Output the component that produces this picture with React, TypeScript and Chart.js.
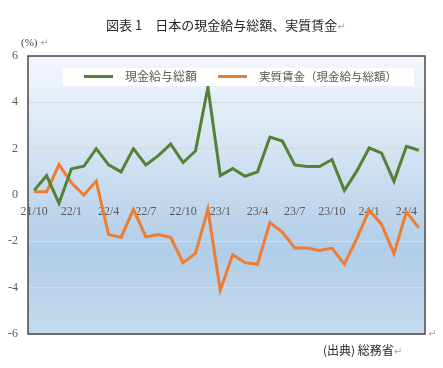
import React, { useEffect, useRef } from "react";
import { Chart, registerables } from "chart.js";

Chart.register(...registerables);

const months: string[] = [
  "21/10", "21/11", "21/12",
  "22/1", "22/2", "22/3", "22/4", "22/5", "22/6", "22/7", "22/8", "22/9", "22/10", "22/11", "22/12",
  "23/1", "23/2", "23/3", "23/4", "23/5", "23/6", "23/7", "23/8", "23/9", "23/10", "23/11", "23/12",
  "24/1", "24/2", "24/3", "24/4", "24/5",
];

const shownTickLabels: string[] = [
  "21/10", "22/1", "22/4", "22/7", "22/10", "23/1", "23/4", "23/7", "23/10", "24/1", "24/4",
];

const nominalWages: number[] = [
  0.2, 0.84, -0.36, 1.13, 1.24, 2.0, 1.3, 1.0, 2.0, 1.3, 1.7, 2.2, 1.4, 1.9, 4.65,
  0.84, 1.14, 0.81, 1.0, 2.5, 2.33, 1.3, 1.23, 1.23, 1.53, 0.19, 1.03,
  2.03, 1.81, 0.59, 2.1, 1.93,
];

const realWages: number[] = [
  0.14, 0.14, 1.31, 0.53, 0.0, 0.6, -1.71, -1.83, -0.62, -1.81, -1.71, -1.83, -2.92, -2.52, -0.62,
  -4.11, -2.58, -2.92, -2.99, -1.19, -1.6, -2.29, -2.29, -2.39, -2.29, -2.99, -1.88,
  -0.65, -1.27, -2.53, -0.73, -1.42,
];

const seriesLabels: string[] = ["現金給与総額", "実質賃金（現金給与総額）"];
const seriesColors: string[] = ["#548235", "#ED7D31"];

const CJK = '"Noto Sans CJK JP", "Noto Sans", sans-serif';
const SERIF = '"Liberation Serif", "DejaVu Serif", serif';

const bgPlugin = {
  id: "bgPlugin",
  beforeDraw(chart: any) {
    const { ctx, chartArea } = chart;
    const { left, top, right, bottom } = chartArea;
    const g = ctx.createLinearGradient(0, top, 0, bottom);
    g.addColorStop(0, "#f3f7fc");
    g.addColorStop(0.35, "#d3e3f3");
    g.addColorStop(0.7, "#b1cde8");
    g.addColorStop(1, "#c6dbef");
    ctx.save();
    ctx.fillStyle = g;
    ctx.fillRect(left, top, right - left, bottom - top);
    ctx.restore();
  },
  afterDraw(chart: any) {
    const { ctx, chartArea } = chart;
    const { left, top, right, bottom } = chartArea;
    ctx.save();
    ctx.fillStyle = "#ffffff";
    ctx.fillRect(63, 68, 351, 18);
    const cy = 76.5;
    ctx.lineWidth = 3;
    ctx.strokeStyle = seriesColors[0];
    ctx.beginPath();
    ctx.moveTo(84, cy);
    ctx.lineTo(113, cy);
    ctx.stroke();
    ctx.strokeStyle = seriesColors[1];
    ctx.beginPath();
    ctx.moveTo(218, cy);
    ctx.lineTo(247, cy);
    ctx.stroke();
    ctx.fillStyle = "#595959";
    ctx.font = `12px ${CJK}`;
    ctx.textBaseline = "middle";
    ctx.textAlign = "left";
    ctx.fillText(chart.data.datasets[0].label, 125, cy);
    ctx.font = `11.5px ${CJK}`;
    ctx.fillText(chart.data.datasets[1].label, 259, cy);
    ctx.strokeStyle = "#4a4a4a";
    ctx.lineWidth = 1.5;
    ctx.strokeRect(left, top, right - left, bottom - top);
    ctx.restore();
  },
};

export default function App() {
  const ref = useRef<HTMLCanvasElement | null>(null);

  useEffect(() => {
    if (!ref.current) return;
    const chart = new Chart(ref.current, {
      type: "line",
      data: {
        labels: months,
        datasets: [
          {
            label: seriesLabels[0],
            data: nominalWages,
            borderColor: seriesColors[0],
            backgroundColor: seriesColors[0],
            borderWidth: 3,
            pointRadius: 0,
            tension: 0,
            fill: false,
          },
          {
            label: seriesLabels[1],
            data: realWages,
            borderColor: seriesColors[1],
            backgroundColor: seriesColors[1],
            borderWidth: 3,
            pointRadius: 0,
            tension: 0,
            fill: false,
          },
        ],
      },
      options: {
        responsive: false,
        animation: false,
        layout: { padding: { top: 56, bottom: 34, left: 0, right: 18 } },
        plugins: {
          legend: { display: false },
          tooltip: { enabled: false },
          title: { display: false },
        },
        scales: {
          x: {
            type: "category",
            position: { y: 0 } as any,
            offset: true,
            grid: { display: false, drawTicks: false },
            border: { display: false },
            ticks: {
              autoSkip: false,
              maxRotation: 0,
              minRotation: 0,
              padding: 10,
              color: "#595959",
              font: { family: SERIF, size: 12 },
              callback: function (this: any, value: any) {
                const lab = this.getLabelForValue(value);
                return shownTickLabels.includes(lab) ? lab : "";
              },
            },
          },
          y: {
            min: -6,
            max: 6,
            afterFit(scale: any) {
              scale.width = 28;
            },
            grid: { color: "#d9d9d9", lineWidth: 1, drawTicks: false },
            border: { display: false },
            ticks: {
              stepSize: 2,
              padding: 10,
              color: "#595959",
              font: { family: SERIF, size: 12 },
            },
          },
        },
      },
      plugins: [bgPlugin],
    });
    return () => chart.destroy();
  }, []);

  const ret = { color: "#a6a6a6", fontFamily: '"DejaVu Sans", sans-serif', fontSize: 10 };

  return (
    <div style={{ position: "fixed", left: 0, top: 0, width: 443, height: 368, background: "#fff" }}>
      <canvas ref={ref} width={443} height={368} style={{ position: "absolute", left: 0, top: 0, width: 443, height: 368 }} />
      <div style={{ position: "absolute", left: 106, top: 16, fontFamily: CJK, fontSize: 13, lineHeight: "18px", color: "#262626", whiteSpace: "nowrap" }}>
        図表 1　日本の現金給与総額、実質賃金<span style={ret}>↵</span>
      </div>
      <div style={{ position: "absolute", left: 21, top: 34, fontFamily: SERIF, fontSize: 11, lineHeight: "16px", color: "#404040", whiteSpace: "nowrap" }}>
        (%) <span style={ret}>↵</span>
      </div>
      <div style={{ position: "absolute", left: 428, top: 328, ...ret, lineHeight: "12px" }}>↵</div>
      <div style={{ position: "absolute", left: 323, top: 341, fontFamily: CJK, fontSize: 12, lineHeight: "18px", color: "#262626", whiteSpace: "nowrap" }}>
        (出典) 総務省<span style={ret}>↵</span>
      </div>
    </div>
  );
}
